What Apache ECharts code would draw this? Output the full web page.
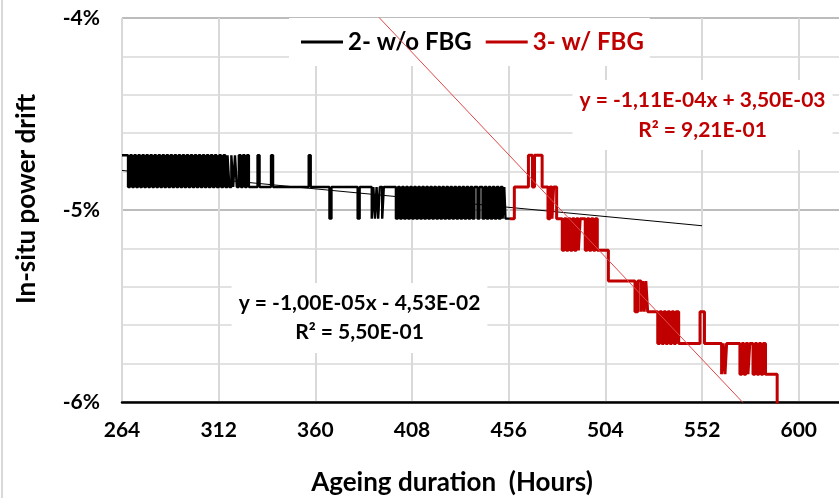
<!DOCTYPE html>
<html>
<head>
<meta charset="utf-8">
<script src="https://cdn.jsdelivr.net/npm/echarts@6/dist/echarts.min.js"></script>
<style>
html,body{margin:0;padding:0;background:#fff;}
#chart{width:839px;height:498px;}
</style>
</head>
<body>
<div id="chart"></div>
<script>
// ---- data (percent) ----
const xTickHours = [264, 312, 360, 408, 456, 504, 552, 600];
const yTickValues = [-6, -5, -4];
const yTickLabels = ['-6%', '-5%', '-4%'];
const seriesNames = ['2- w/o FBG', '3- w/ FBG'];

// 2- w/o FBG : [hour, drift %]
const withoutFBG = [
  [264,-4.715],[267,-4.88],[268,-4.715],[269,-4.88],[270,-4.715],[271,-4.88],[272,-4.715],[273,-4.88],
  [274,-4.715],[275,-4.88],[276,-4.715],[277,-4.88],[278,-4.715],[279,-4.88],[280,-4.715],[281,-4.88],
  [282,-4.715],[283,-4.88],[284,-4.715],[285,-4.88],[286,-4.715],[287,-4.88],[288,-4.715],[289,-4.88],
  [290,-4.715],[291,-4.88],[292,-4.715],[293,-4.88],[294,-4.715],[295,-4.88],[296,-4.715],[297,-4.88],
  [298,-4.715],[299,-4.88],[300,-4.715],[301,-4.88],[302,-4.715],[303,-4.88],[304,-4.715],[305,-4.88],
  [306,-4.715],[307,-4.88],[308,-4.715],[309,-4.88],[310,-4.715],[311,-4.88],[312.2,-4.715],[313.2,-4.88],
  [314.3,-4.715],[315.3,-4.88],[316.4,-4.715],[317.3,-4.88],[318.3,-4.715],[319.2,-4.88],[320.1,-4.715],
  [321,-4.88],[322,-4.715],[323,-4.88],[324,-4.715],[325,-4.88],[326,-4.715],[327,-4.88],
  [331.3,-4.715],[332.3,-4.88],[338,-4.715],[339,-4.88],[356.7,-4.715],[357.7,-4.88],
  [367,-5.045],[368,-4.88],[381,-5.045],[382,-4.88],[388,-5.045],[388.8,-4.88],[389.6,-5.045],[390.4,-4.88],
  [391.2,-5.045],[392,-4.88],[393.2,-5.045],[394,-4.88],[400,-5.045],[401,-4.88],
  [402,-5.045],[403,-4.88],[404,-5.045],[405,-4.88],[406,-5.045],[407,-4.88],[408,-5.045],[409,-4.88],
  [410,-5.045],[411,-4.88],[412,-5.045],[413,-4.88],[414,-5.045],[415,-4.88],[416,-5.045],[417,-4.88],
  [418,-5.045],[419,-4.88],[420,-5.045],[421,-4.88],[422,-5.045],[423,-4.88],[424,-5.045],[425,-4.88],
  [426,-5.045],[427,-4.88],[428,-5.045],[429,-4.88],[430,-5.045],[431,-4.88],[432,-5.045],[433,-4.88],
  [434,-5.045],[435,-4.88],[436,-5.045],[437,-4.88],[438,-5.045],[439,-4.88],[440.5,-5.045],[441.5,-4.88],
  [443,-5.045],[444,-4.88],[445,-5.045],[446,-4.88],[447,-5.045],[448,-4.88],[449,-5.045],[450,-4.88],
  [451,-5.045],[452,-4.88],[453,-5.045],[453.8,-4.88],[454.4,-5.045],[456.6,-5.045]
];

// 3- w/ FBG : [hour, drift %]
const withFBG = [
  [456.6,-5.045],[458.8,-4.88],[465.8,-4.715],[467.8,-4.88],[468.8,-4.715],[472.6,-4.88],
  [475.5,-5.045],[476.5,-4.88],[477.5,-5.045],[478.3,-4.88],[479.8,-5.045],
  [482.6,-5.21],[483.6,-5.045],[484.6,-5.21],[485.6,-5.045],[486.6,-5.21],[487.6,-5.045],[488.6,-5.21],
  [489.6,-5.045],[490.6,-5.21],[491.5,-5.045],[494,-5.21],[495,-5.045],[496,-5.21],[497,-5.045],
  [498,-5.21],[499,-5.045],[500,-5.21],[505.5,-5.37],
  [518.7,-5.53],[520.1,-5.37],[521.7,-5.53],[522.5,-5.37],[523.3,-5.53],[524.1,-5.37],[525,-5.53],
  [530,-5.695],[531,-5.53],[532,-5.695],[533,-5.53],[534,-5.695],[535,-5.53],[536,-5.695],[537,-5.53],
  [538,-5.695],[539,-5.53],[540.4,-5.695],[551,-5.53],[553.2,-5.695],
  [561.7,-5.855],[562.5,-5.695],[563.4,-5.855],[564.2,-5.695],
  [570.8,-5.855],[571.8,-5.695],[572.8,-5.855],[573.8,-5.695],[574.8,-5.855],[575.7,-5.695],
  [577.3,-5.855],[578.3,-5.695],[579.3,-5.855],[580.3,-5.695],[581.3,-5.855],[582.3,-5.695],[583.5,-5.855],
  [589.3,-6.03],[592,-6.03]
];

// linear trendlines (end points, %)
const trendWithoutFBG = [[264,-4.794],[552,-5.082]];
const trendWithFBG = [[388,-3.957],[575,-6.033]];
const equationWithoutFBG = 'y = -1,00E-05x - 4,53E-02\nR² = 5,50E-01';
const equationWithFBG = 'y = -1,11E-04x + 3,50E-03\nR² = 9,21E-01';

const FONT = 'Lato, "Liberation Sans", sans-serif';
const RED = '#c00000';

const chart = echarts.init(document.getElementById('chart'), null, {renderer: 'canvas'});
chart.setOption({
  backgroundColor: '#ffffff',
  animation: false,
  grid: {left: 122, right: 0, top: 18, bottom: 96, containLabel: false},
  xAxis: {
    type: 'value', min: 264, max: 620, interval: 48,
    axisLine: {show: true, onZero: false, lineStyle: {color: '#000', width: 2.5}},
    axisTick: {show: false},
    axisLabel: {
      margin: 18, showMaxLabel: false,
      fontFamily: FONT, fontWeight: 'bold', fontSize: 21, color: '#000',
      formatter: v => xTickHours.indexOf(v) >= 0 ? String(v) : ''
    },
    splitLine: {show: true, showMaxLine: false, lineStyle: {color: '#d9d9d9', width: 2}}
  },
  yAxis: {
    type: 'value', min: -6, max: -4, interval: 1,
    axisLine: {show: false},
    axisTick: {show: false},
    axisLabel: {show: false},
    splitLine: {show: true, lineStyle: {color: '#a6a6a6', width: 1.5}},
    minorTick: {show: false, splitNumber: 5},
    minorSplitLine: {show: true, lineStyle: {color: '#d9d9d9', width: 1.5}}
  },
  legend: {
    data: [
      {name: seriesNames[0], icon: 'rect', textStyle: {color: '#000'}},
      {name: seriesNames[1], icon: 'rect', textStyle: {color: RED}}
    ],
    left: 289, top: 18,
    padding: [12, 6, 12, 12],
    itemWidth: 42, itemHeight: 3, itemGap: 14,
    backgroundColor: '#ffffff',
    textStyle: {fontFamily: FONT, fontWeight: 'bold', fontSize: 24}
  },
  series: [
    {
      name: 'trend-w/o', type: 'line', data: trendWithoutFBG, symbol: 'none', silent: true,
      lineStyle: {color: '#000', width: 1}, z: 3
    },
    {
      name: seriesNames[0], type: 'line', data: withoutFBG, step: 'end', symbol: 'none',
      lineStyle: {color: '#000', width: 2.4}, itemStyle: {color: '#000'}, z: 2
    },
    {
      name: seriesNames[1], type: 'line', data: withFBG, step: 'end', symbol: 'none',
      lineStyle: {color: RED, width: 3}, itemStyle: {color: RED}, z: 4
    },
    {
      name: 'trend-w', type: 'line', data: trendWithFBG, symbol: 'none', silent: true,
      lineStyle: {color: '#e04848', width: 1}, z: 5
    }
  ]
});

// y tick labels placed through the y axis scale
const axisLeft = chart.convertToPixel({xAxisIndex: 0}, 264);
const yLabelGraphics = yTickValues.map((v, i) => ({
  type: 'text', z: 100,
  x: axisLeft - 22, y: chart.convertToPixel({yAxisIndex: 0}, v),
  style: {
    text: yTickLabels[i], font: 'bold 21px ' + FONT, fill: '#000',
    align: 'right', verticalAlign: 'middle'
  }
}));

chart.setOption({
  graphic: [
    {type: 'line', z: 0, shape: {x1: 2, y1: 0, x2: 2, y2: 498}, style: {stroke: '#d9d9d9', lineWidth: 2}},
    {
      type: 'text', z: 100, x: 359.5, y: 283,
      style: {
        text: equationWithoutFBG, font: 'bold 21px ' + FONT, fill: '#000',
        align: 'center', verticalAlign: 'top', lineHeight: 29,
        backgroundColor: '#fff', padding: [6, 7, 6, 7]
      }
    },
    {
      type: 'text', z: 100, x: 702.5, y: 80,
      style: {
        text: equationWithFBG, font: 'bold 21px ' + FONT, fill: RED,
        align: 'center', verticalAlign: 'top', lineHeight: 30,
        backgroundColor: '#fff', padding: [5, 7, 5, 7]
      }
    },
    {
      type: 'text', z: 100, x: 452, y: 483,
      style: {
        text: 'Ageing duration  (Hours)', font: 'bold 26px ' + FONT, fill: '#000',
        align: 'center', verticalAlign: 'middle'
      }
    },
    {
      type: 'text', z: 100, x: 27, y: 199, rotation: Math.PI / 2,
      style: {
        text: 'In-situ power drift', font: 'bold 26px ' + FONT, fill: '#000',
        align: 'center', verticalAlign: 'middle'
      }
    }
  ].concat(yLabelGraphics)
});
</script>
</body>
</html>
